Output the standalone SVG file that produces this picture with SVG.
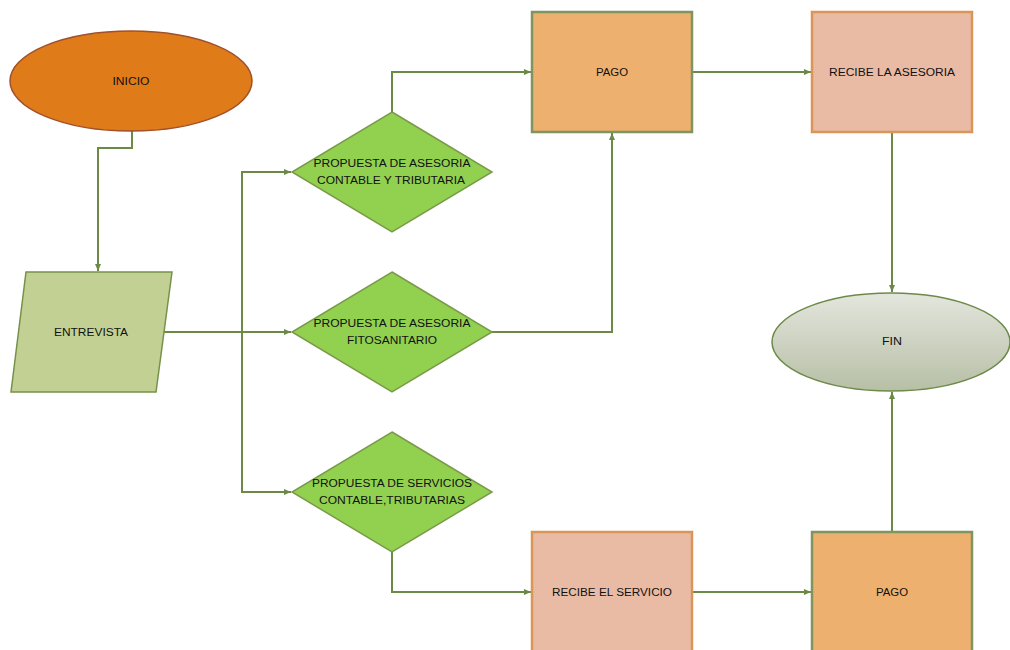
<svg xmlns="http://www.w3.org/2000/svg" width="1010" height="650" viewBox="0 0 1010 650">
<style>
text{font-family:"Liberation Sans",Arial,sans-serif;font-size:10px;fill:#111;text-anchor:middle;dominant-baseline:central}
.c{fill:none;stroke:#6A8A45;stroke-width:2}
.d{fill:#92D050;stroke:#7A9A4A;stroke-width:1.5}
.pago{fill:#EEB06E;stroke:#7F9560;stroke-width:2.5}
.rec{fill:#E9BBA5;stroke:#DA9658;stroke-width:2.5}
</style>
<defs>
<marker id="a" markerWidth="8" markerHeight="8" refX="7" refY="4" orient="auto" markerUnits="userSpaceOnUse">
<path d="M0,1 L7,4 L0,7 Z" fill="#6A8A45"/>
</marker>
<linearGradient id="g" x1="0" y1="0" x2="0" y2="1">
<stop offset="0" stop-color="#E3E6DD"/>
<stop offset="1" stop-color="#B7BFA6"/>
</linearGradient>
</defs>
<rect width="1010" height="650" fill="#fff"/>
<g id="connectors">
<path class="c" d="M132,131 V148 H98 V271" marker-end="url(#a)"/>
<path class="c" d="M164,332 H291" marker-end="url(#a)"/>
<path class="c" d="M242,332 V172 H291" marker-end="url(#a)"/>
<path class="c" d="M242,332 V492 H291" marker-end="url(#a)"/>
<path class="c" d="M392,112 V72 H531" marker-end="url(#a)"/>
<path class="c" d="M492,332 H612 V133" marker-end="url(#a)"/>
<path class="c" d="M692,72 H811" marker-end="url(#a)"/>
<path class="c" d="M892,132 V292" marker-end="url(#a)"/>
<path class="c" d="M392,552 V592 H531" marker-end="url(#a)"/>
<path class="c" d="M692,592 H811" marker-end="url(#a)"/>
<path class="c" d="M892,532 V392" marker-end="url(#a)"/>
</g>
<g id="inicio">
<ellipse cx="131" cy="81" rx="121" ry="50" fill="#E07B1A" stroke="#A0502A" stroke-width="1.5"/>
<text x="131" y="81" textLength="37" lengthAdjust="spacingAndGlyphs">INICIO</text>
</g>
<g id="entrevista">
<polygon points="26,272 172,272 156,392 11,392" fill="#C2D193" stroke="#76924A" stroke-width="1.5"/>
<text x="91" y="332" textLength="74" lengthAdjust="spacingAndGlyphs">ENTREVISTA</text>
</g>
<g id="propuesta1">
<polygon class="d" points="392,112 492,172 392,232 292,172"/>
<text x="392" y="163" textLength="157" lengthAdjust="spacingAndGlyphs">PROPUESTA DE ASESORIA</text>
<text x="391" y="180" textLength="148" lengthAdjust="spacingAndGlyphs">CONTABLE Y TRIBUTARIA</text>
</g>
<g id="propuesta2">
<polygon class="d" points="392,272 492,332 392,392 292,332"/>
<text x="392" y="323" textLength="157" lengthAdjust="spacingAndGlyphs">PROPUESTA DE ASESORIA</text>
<text x="392" y="340" textLength="90" lengthAdjust="spacingAndGlyphs">FITOSANITARIO</text>
</g>
<g id="propuesta3">
<polygon class="d" points="392,432 492,492 392,552 292,492"/>
<text x="392" y="483" textLength="160" lengthAdjust="spacingAndGlyphs">PROPUESTA DE SERVICIOS</text>
<text x="392" y="500" textLength="146" lengthAdjust="spacingAndGlyphs">CONTABLE,TRIBUTARIAS</text>
</g>
<g id="pago1">
<rect class="pago" x="532" y="12" width="160" height="120"/>
<text x="612" y="72" textLength="32" lengthAdjust="spacingAndGlyphs">PAGO</text>
</g>
<g id="recibe-asesoria">
<rect class="rec" x="812" y="12" width="160" height="120"/>
<text x="892" y="72" textLength="126" lengthAdjust="spacingAndGlyphs">RECIBE LA ASESORIA</text>
</g>
<g id="fin">
<ellipse cx="891" cy="342" rx="119" ry="49" fill="url(#g)" stroke="#6E8A48" stroke-width="1.5"/>
<text x="892" y="341" textLength="20" lengthAdjust="spacingAndGlyphs" fill="#333">FIN</text>
</g>
<g id="recibe-servicio">
<rect class="rec" x="532" y="532" width="160" height="130"/>
<text x="612" y="592" textLength="120" lengthAdjust="spacingAndGlyphs">RECIBE EL SERVICIO</text>
</g>
<g id="pago2">
<rect class="pago" x="812" y="532" width="160" height="130"/>
<text x="892" y="592" textLength="32" lengthAdjust="spacingAndGlyphs">PAGO</text>
</g>
</svg>
